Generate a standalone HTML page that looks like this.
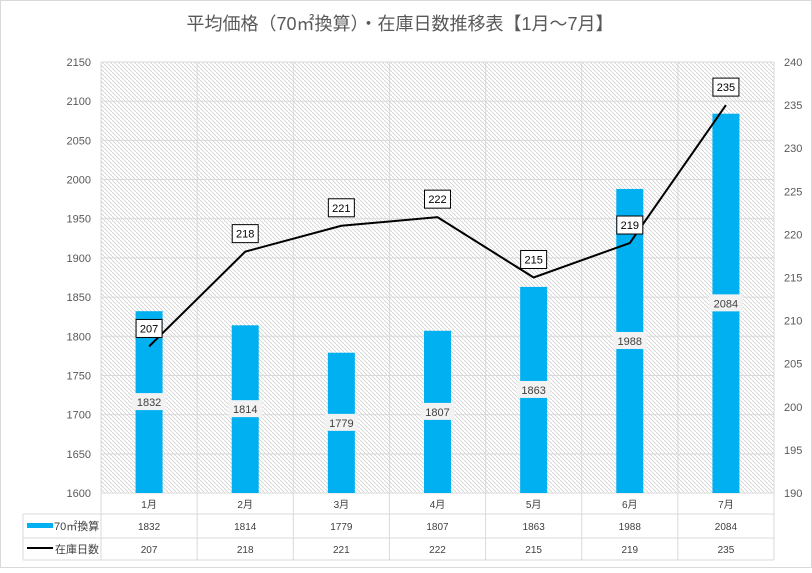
<!DOCTYPE html>
<html><head><meta charset="utf-8"><style>
body{margin:0;background:#fff}
svg text{font-family:"Liberation Sans","Noto Sans CJK JP",sans-serif}
</style></head><body>
<svg id="c" width="812" height="568" xmlns="http://www.w3.org/2000/svg">
<defs><pattern id="h" width="4" height="4" patternUnits="userSpaceOnUse"><path d="M-1,-1 L5,5" stroke="#d0d0d0" stroke-width="0.8"/></pattern></defs>
<rect x="0.5" y="0.5" width="811" height="567" fill="#fff" stroke="#d9d9d9"/>
<text x="400" y="30" text-anchor="middle" font-size="18" fill="#595959">平均価格（70㎡換算）・在庫日数推移表【1月～7月】</text>
<rect x="101" y="62" width="673" height="431" fill="url(#h)"/>
<g id="g"></g>
</svg>
<script>
const categories=["1月","2月","3月","4月","5月","6月","7月"];
const priceValues=[1832,1814,1779,1807,1863,1988,2084];
const daysValues=[207,218,221,222,215,219,235];
const leftTicks=[1600,1650,1700,1750,1800,1850,1900,1950,2000,2050,2100,2150];
const rightTicks=[190,195,200,205,210,215,220,225,230,235,240];
const X0=101,X1=774,Y0=493,Y1=62;
const cw=(X1-X0)/categories.length;
const xc=i=>X0+cw*(i+0.5);
const yL=v=>Y0-(v-1600)/(2150-1600)*(Y0-Y1);
const yR=v=>Y0-(v-190)/(240-190)*(Y0-Y1);
const g=document.getElementById('g');
const NS="http://www.w3.org/2000/svg";
function mk(t,a,txt){const e=document.createElementNS(NS,t);for(const k in a)e.setAttribute(k,a[k]);if(txt!==undefined)e.textContent=txt;g.appendChild(e);return e;}
leftTicks.forEach(v=>{
 const l=mk('line',{x1:X0,x2:X1,y1:yL(v),y2:yL(v),stroke:'#d9d9d9'});
 
 
 const t=mk('text',{x:91,y:yL(v)+4,'text-anchor':'end','font-size':11,fill:'#595959'},v);
 
 
});
rightTicks.forEach(v=>{
 const t=mk('text',{x:784,y:yR(v)+4,'font-size':11,fill:'#595959'},v);
 
 
});
// table grid
const rows=[493,514,538,560];
for(let i=0;i<=categories.length;i++){
 const x=X0+cw*i;
 const l=mk('line',{x1:x,x2:x,y1:Y1,y2:560,stroke:'#d9d9d9'});
 
 
}
mk('line',{x1:23,x2:23,y1:514,y2:560,stroke:'#d9d9d9'});
rows.forEach((y,i)=>{const l=mk('line',{x1:i==0?X0:23,x2:X1,y1:y,y2:y,stroke:'#d9d9d9'});});
mk('rect',{x:27,y:523,width:26,height:5,fill:'#00b0f0'});
mk('text',{x:54,y:530,'font-size':11,fill:'#404040'},'70㎡換算');
mk('line',{x1:27,x2:53,y1:548,y2:548,stroke:'#000','stroke-width':2});
mk('text',{x:55,y:553,'font-size':11,fill:'#404040'},'在庫日数');
categories.forEach((c,i)=>{
 const x=xc(i);
 const t=mk('text',{x:x,y:508,'text-anchor':'middle','font-size':10,fill:'#404040'},c);
 
 
 const b=mk('rect',{x:x-13.5,y:yL(priceValues[i]),width:27,height:Y0-yL(priceValues[i]),fill:'#00b0f0'});
 
 
 const my=(yL(priceValues[i])+Y0)/2;
 mk('rect',{x:x-17,y:my-9,width:34,height:17,fill:'#f2f2f2'});
 const bl=mk('text',{x:x,y:my+4,'text-anchor':'middle','font-size':11,fill:'#404040'},priceValues[i]);
 
 
 const t1=mk('text',{x:x,y:530,'text-anchor':'middle','font-size':10,fill:'#404040'},priceValues[i]);
 
 
 const t2=mk('text',{x:x,y:553,'text-anchor':'middle','font-size':10,fill:'#404040'},daysValues[i]);
 
 
});
const pts=daysValues.map((v,i)=>xc(i)+','+yR(v)).join(' ');
const pl=mk('polyline',{points:pts,fill:'none',stroke:'#000','stroke-width':2});


daysValues.forEach((v,i)=>{
 const x=xc(i),y=yR(v)-27;
 const r=mk('rect',{x:x-13,y:y,width:26,height:18,fill:'#fff',stroke:'#000'});
 
 
 const t=mk('text',{x:x,y:y+13,'text-anchor':'middle','font-size':11,fill:'#000'},v);
 
 
});
</script>
</body></html>
